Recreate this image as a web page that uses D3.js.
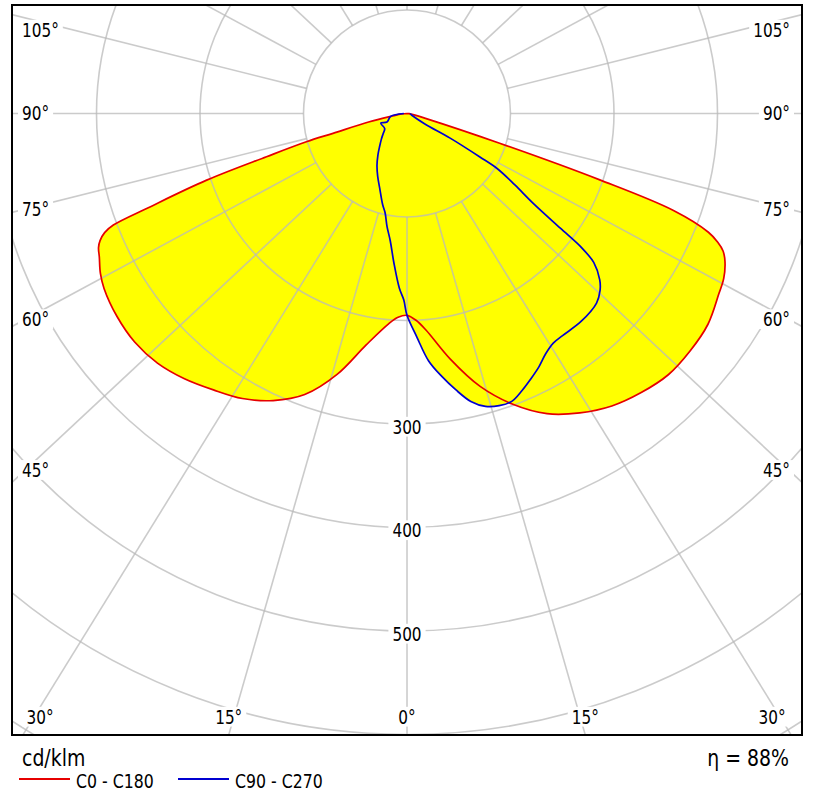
<!DOCTYPE html>
<html><head><meta charset="utf-8">
<script src="https://cdn.jsdelivr.net/npm/d3@7"></script>
<style>
body{margin:0;background:#fff}
svg text{font-family:"DejaVu Sans Condensed","DejaVu Sans",sans-serif;font-stretch:condensed;fill:#000}
</style></head><body>
<svg id="chart" width="813" height="800"></svg>
<script>
// ---- data (cd/klm) ----
const redLeftAngles  = [0,2.5,5,10,15,20,25,30,35,40,45,50,55,60,62.5,65,66.5,67.5,68.5,69.2,70,71.6,72.9,74.3,75,77.5,80,85,90];
const redLeftValues  = [195,197,204,227,261,289,306,318,326,334.5,341,343.5,342,338,334,328,325,321,314,303.5,266,204,142,101,74,38,15,5,0];
const redRightAngles = [0,2.5,5,10,15,20,25,30,35,40,45,50,55,60,62.5,65,66.5,67.5,68.5,70,71,72.2,75,80,85,90];
const redRightValues = [195,200,210,241,273,299,320,334,345,352,357,357,355,348,345,339,333,325,313,274,197,94,20,5,2,0];
const blueLeftAngles = [0,1,2.5,5,7.5,10,12.5,15,20,25,30,35,40,45,50,56,70,67,80,90];
const blueLeftValues = [195,180,169,145,124,111,98,91,77,67,58,49,41,35,30,26,27,21,16,3];
const blueRightAngles= [0,2.5,5,7.5,10,12.5,15,17.5,20,22.5,25,27.5,30,32.5,35,40,45,47.5,49.2,51.4,52.45,53.2,54.6,56.5,58.6,59.2,60.3,59.7,70,90];
const blueRightValues= [195,216,240,256,271,285,293,296,296,290,283,276,268,263,262,262,259,253,246,231,213,185,149,125,102,82,48,20,5,3];
const radialTicks  = [100,200,300,400,500,600,700];
const radialLabels = [300,400,500];
const angleTicks   = [0,15,30,45,60,75,90,105,120,135,150,165,180];
const sideLabels   = [105,90,75,60,45];
const bottomLabels = [30,15,0];
const unitLabel = "cd/klm";
const effLabel = "\u03B7 = 88%";
const seriesNames = ["C0 - C180","C90 - C270"];
const seriesColors = ["#e60000","#0000d0"];

// ---- layout ----
const frame = {x:12,y:5,w:790,h:730};
const cx = 407, cy = 113.5;
const kv = 0.934;
const ts = 1.1; // vertical text stretch
const r = d3.scaleLinear().domain([0,700]).range([0,724.5]);
const deg = Math.PI/180;

const svg = d3.select("#chart");
svg.append("defs").append("clipPath").attr("id","clip")
  .append("rect").attr("x",frame.x).attr("y",frame.y).attr("width",frame.w).attr("height",frame.h);
const g = svg.append("g").attr("clip-path","url(#clip)");
g.append("rect").attr("x",frame.x).attr("y",frame.y).attr("width",frame.w).attr("height",frame.h).attr("fill","#fff");
const plot = g.append("g").attr("transform",`translate(${cx},${cy})`);

function seq(lA,lV,rA,rV){
  const pts=[];
  for(let i=lA.length-1;i>=0;i--) pts.push({a:Math.PI+lA[i]*deg, v:lV[i]});
  for(let i=1;i<rA.length;i++) pts.push({a:Math.PI-rA[i]*deg, v:rV[i]});
  return pts;
}
const redPts = seq(redLeftAngles,redLeftValues,redRightAngles,redRightValues);
const bluePts = seq(blueLeftAngles,blueLeftValues,blueRightAngles,blueRightValues);
const line = d3.lineRadial().angle(d=>d.a).radius(d=>r(d.v)).curve(d3.curveCatmullRom.alpha(0.5));

// fills
plot.append("path").attr("d",line(redPts)+"Z").attr("fill","#ffff00");
plot.append("path").attr("d",line(bluePts)+"Z").attr("fill","#ffff00");

// grid
const grid = plot.append("g").attr("stroke","rgb(185,185,185)").attr("stroke-opacity",0.75).attr("stroke-width",1.6).attr("fill","none");
grid.selectAll("circle").data(radialTicks).join("circle").attr("r",d=>r(d));
const dirs=[];
angleTicks.forEach(a=>{ [-1,1].forEach(s=>{ if((a===0||a===180)&&s===1) return; dirs.push({a,s}); }); });
grid.selectAll("line").data(dirs).join("line")
  .each(function(d){
    let dx=d.s*Math.sin(d.a*deg), dy=kv*Math.cos(d.a*deg);
    const n=Math.hypot(dx,dy); dx/=n; dy/=n;
    d3.select(this).attr("x1",dx*r(100)).attr("y1",dy*r(100)).attr("x2",dx*1200).attr("y2",dy*1200);
  });

// curves
plot.append("path").attr("d",line(redPts)).attr("fill","none").attr("stroke",seriesColors[0]).attr("stroke-width",1.7);
plot.append("path").attr("d",line(bluePts)).attr("fill","none").attr("stroke",seriesColors[1]).attr("stroke-width",1.7);

// text helper (slightly tall glyphs like the original)
function txt(parent,s,x,y,anchor,size,bg){
  const gg=parent.append("g").attr("transform",`translate(${x},${y}) scale(1,${ts})`);
  const t=gg.append("text").attr("x",0).attr("y",0).attr("text-anchor",anchor).attr("font-size",size).text(s);
  if(bg){
    const b=t.node().getBBox();
    gg.insert("rect","text").attr("x",b.x-4).attr("y",b.y+1).attr("width",b.width+8).attr("height",b.height-2).attr("fill","#fff");
  }
}
const lab = g.append("g");
radialLabels.forEach(v=>txt(lab,String(v),cx,cy+r(v)+9.5,"middle",17,true));
sideLabels.forEach(a=>{
  [-1,1].forEach(s=>{
    const xl = s<0?25:789;
    let y = cy + Math.abs(xl-cx)*kv*Math.cos(a*deg)/Math.sin(a*deg);
    y = Math.max(y,30);
    txt(lab,a+"\u00B0", s<0?22:790, y+6.5, s<0?"start":"end",17,true);
  });
});
bottomLabels.forEach(a=>{
  [-1,1].forEach(s=>{
    if(a===0&&s===1) return;
    const yb=frame.y+frame.h;
    let x = cx + s*(yb-cy)*Math.tan(a*deg)/kv;
    x = Math.min(Math.max(x,40),772);
    txt(lab,a+"\u00B0",x,723.5,"middle",17,true);
  });
});

// frame
svg.append("rect").attr("x",frame.x).attr("y",frame.y).attr("width",frame.w).attr("height",frame.h)
  .attr("fill","none").attr("stroke","#000").attr("stroke-width",2);

// legend
txt(svg,unitLabel,22,766,"start",21,false);
txt(svg,effLabel,789,766,"end",21,false);
const legX=[19,178];
seriesNames.forEach((n,i)=>{
  svg.append("line").attr("x1",legX[i]).attr("x2",legX[i]+51).attr("y1",779).attr("y2",779).attr("stroke",seriesColors[i]).attr("stroke-width",2);
  txt(svg,n,legX[i]+57,788,"start",17.5,false);
});
</script></body></html>
